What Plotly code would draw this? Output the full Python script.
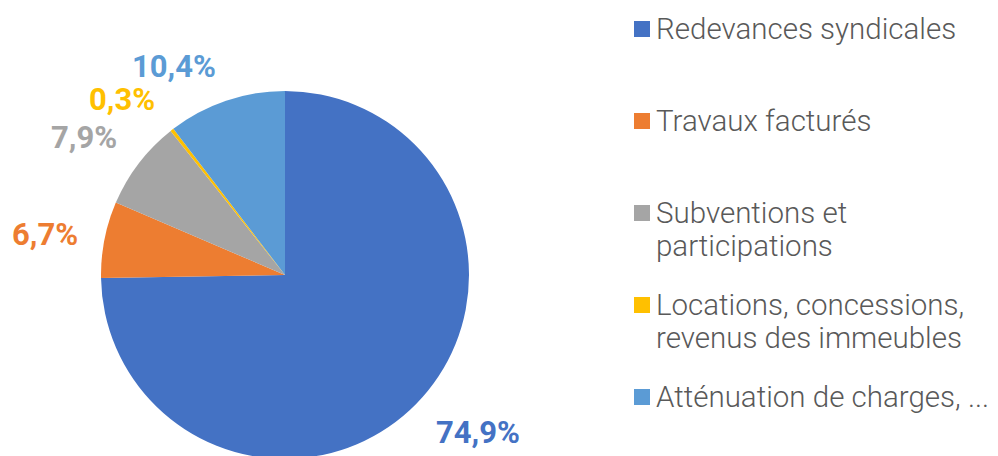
import math
import plotly.graph_objects as go

# ---- data ----
labels = ["Redevances syndicales", "Travaux facturés", "Subventions et participations",
          "Locations, concessions, revenus des immeubles", "Atténuation de charges, ..."]
legend_lines = [["Redevances syndicales"], ["Travaux facturés"], ["Subventions et", "participations"],
                ["Locations, concessions,", "revenus des immeubles"], ["Atténuation de charges, ..."]]
values = [74.9, 6.7, 7.9, 0.3, 10.4]
value_text = ["74,9%", "6,7%", "7,9%", "0,3%", "10,4%"]
colors = ["#4472C4", "#ED7D31", "#A5A5A5", "#FFC000", "#5B9BD5"]

W, H = 998, 456
OFF = 8  # page body margin in the browser


def px(sx):
    return (sx - OFF) / W


def py(sy):
    return 1 - (sy - OFF) / H


# pie placement (screen pixels)
left, right, top, bottom = 101, 469, 91, 459
cx, cy = (left + right) / 2, (top + bottom) / 2
R = (right - left) / 2

fig = go.Figure(go.Pie(
    labels=labels, values=values, marker=dict(colors=colors, line=dict(width=0)),
    sort=False, direction="clockwise", rotation=0,
    textinfo="none", hoverinfo="label+percent", showlegend=False,
    domain=dict(x=[px(left), px(right)], y=[py(bottom), py(top)]),
))

annotations = []
shapes = []
lab_size = 31
gap = 25
cap_h = 0.7 * lab_size
total = sum(values)
cum = 0.0
for v, t, c in zip(values, value_text, colors):
    mid = (cum + v / 2) / total * 2 * math.pi
    cum += v
    dx, up = math.sin(mid), math.cos(mid)
    sx = cx + (R + gap) * dx
    sy = cy - (R + gap) * up
    xa = "left" if dx > 0.1 else ("right" if dx < -0.1 else "center")
    if up > 0.3:
        sy -= cap_h / 2
    elif up < -0.3:
        sy += cap_h / 2
    annotations.append(dict(
        x=px(sx), y=py(sy), xref="paper", yref="paper",
        text=t, showarrow=False, xanchor=xa, yanchor="middle",
        font=dict(family="Roboto", size=lab_size, color=c, weight="bold"),
    ))

# legend drawn as squares + text lines
leg_size = 29.5
sq_x0, sq = 634, 16
txt_x = 654
first_base, step, line_h = 39, 92, 33
for i, (lines, c) in enumerate(zip(legend_lines, colors)):
    base = first_base + i * step
    shapes.append(dict(type="rect", xref="paper", yref="paper",
                       x0=px(sq_x0), x1=px(sq_x0 + sq),
                       y0=py(base - 2), y1=py(base - 2 - sq),
                       fillcolor=c, line=dict(width=0)))
    for j, line in enumerate(lines):
        b = base + j * line_h
        annotations.append(dict(
            x=px(txt_x), y=py(b - leg_size), xref="paper", yref="paper",
            text=line, showarrow=False, xanchor="left", yanchor="top", align="left",
            font=dict(family="Roboto", size=leg_size, color="#595959", weight=300),
        ))

fig.update_layout(
    width=W, height=H, margin=dict(l=0, r=0, t=0, b=0),
    paper_bgcolor="white", plot_bgcolor="white",
    annotations=annotations, shapes=shapes,
)
fig.write_html("out.html")
